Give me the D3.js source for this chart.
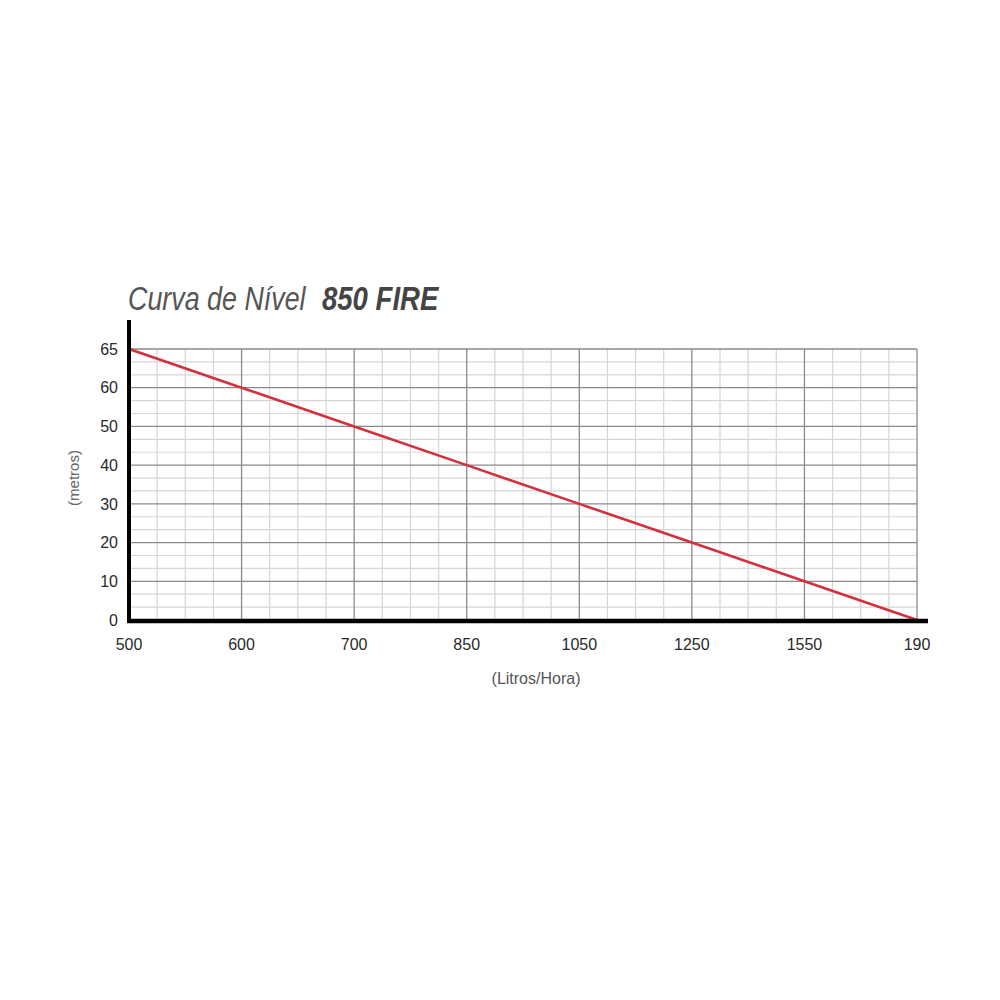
<!DOCTYPE html>
<html><head><meta charset="utf-8">
<script src="https://cdn.jsdelivr.net/npm/d3@7"></script>
<style>body{margin:0;background:#fff}</style>
</head><body>
<svg id="c" width="1000" height="1000"></svg>
<script>
const flowCategories = ["500","600","700","850","1050","1250","1550","190"];
const headTicks = ["0","10","20","30","40","50","60","65"];
const headValues = [65,60,50,40,30,20,10,0];
const titleLight = "Curva de Nível";
const titleBold = "850 FIRE";
const xTitle = "(Litros/Hora)";
const yTitle = "(metros)";

const svg = d3.select("#c");
const L=129, R=917, T=349, B=620;
const x = d3.scalePoint().domain(flowCategories).range([L,R]);
const y = d3.scalePoint().domain(headTicks).range([B,T]);

const g = svg.append("g");
const minorX=[], minorY=[];
for(let i=0;i<flowCategories.length-1;i++){
  const a=x(flowCategories[i]), b=x(flowCategories[i+1]);
  for(let k=1;k<4;k++) minorX.push(a+(b-a)*k/4);
}
for(let i=0;i<headTicks.length-1;i++){
  const a=y(headTicks[i]), b=y(headTicks[i+1]);
  for(let k=1;k<3;k++) minorY.push(a+(b-a)*k/3);
}
g.selectAll(".mx").data(minorX).join("line").attr("x1",d=>d).attr("x2",d=>d).attr("y1",T).attr("y2",B)
 .attr("stroke","#d6d6d6").attr("stroke-width",1.2);
g.selectAll(".my").data(minorY).join("line").attr("y1",d=>d).attr("y2",d=>d).attr("x1",L).attr("x2",R)
 .attr("stroke","#d6d6d6").attr("stroke-width",1.2);
g.selectAll(".Mx").data(flowCategories.slice(1)).join("line").attr("x1",d=>x(d)).attr("x2",d=>x(d)).attr("y1",T).attr("y2",B)
 .attr("stroke","#8a8a8a").attr("stroke-width",1.3);
g.selectAll(".My").data(headTicks.slice(1)).join("line").attr("y1",d=>y(d)).attr("y2",d=>y(d)).attr("x1",L).attr("x2",R)
 .attr("stroke","#8a8a8a").attr("stroke-width",1.3);

svg.append("path").datum(flowCategories.map((c,i)=>[c,headValues[i]]))
 .attr("fill","none").attr("stroke","#d32f3c").attr("stroke-width",2.6)
 .attr("d", d3.line().x(d=>x(d[0])).y(d=>y(String(d[1]))));

svg.append("line").attr("x1",L).attr("x2",L).attr("y1",320).attr("y2",B+2).attr("stroke","#000").attr("stroke-width",4);
svg.append("line").attr("x1",L-2).attr("x2",928).attr("y1",B+1).attr("y2",B+1).attr("stroke","#000").attr("stroke-width",4.5);

const tickFont = "Liberation Sans, Arial, Helvetica, sans-serif";
svg.selectAll(".yl").data(headTicks).join("text").attr("x",118).attr("y",d=>y(d)).attr("dy","0.36em")
 .attr("text-anchor","end").attr("font-family",tickFont).attr("font-size",16).attr("fill","#2a2a2a").text(d=>d);
svg.selectAll(".xl").data(flowCategories).join("text").attr("x",d=>x(d)).attr("y",650)
 .attr("text-anchor","middle").attr("font-family",tickFont).attr("font-size",16).attr("fill","#2a2a2a").text(d=>d);

svg.append("text").attr("x",536).attr("y",684).attr("text-anchor","middle")
 .attr("font-family",tickFont).attr("font-size",16).attr("fill","#555").text(xTitle);
svg.append("text").attr("transform","translate(79,478) rotate(-90)").attr("text-anchor","middle")
 .attr("font-family",tickFont).attr("font-size",15).attr("fill","#666").text(yTitle);

svg.append("text").attr("transform","translate(128,310) scale(0.79,1)")
 .attr("font-family",tickFont).attr("font-size",34).attr("font-style","italic").attr("fill","#555").text(titleLight);
svg.append("text").attr("transform","translate(322,310) scale(0.81,1)")
 .attr("font-family",tickFont).attr("font-size",34).attr("font-style","italic").attr("font-weight","bold").attr("fill","#444").text(titleBold);
</script>
</body></html>
